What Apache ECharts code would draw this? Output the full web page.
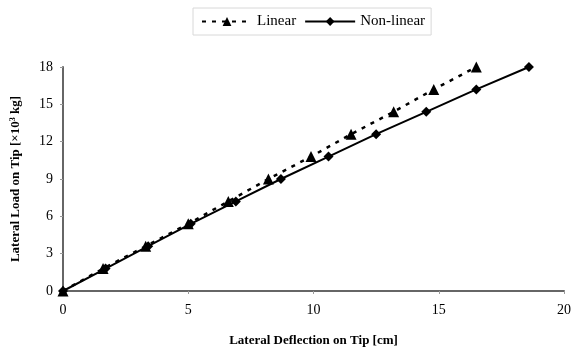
<!DOCTYPE html>
<html>
<head>
<meta charset="utf-8">
<script src="https://cdn.jsdelivr.net/npm/echarts@6/dist/echarts.min.js"></script>
<style>
  html, body { margin: 0; padding: 0; background: #fff; }
  #chart { width: 574px; height: 352px; }
</style>
</head>
<body>
<div id="chart"></div>
<script>
// Tip deflection (cm) vs lateral load (x10^3 kg)
const linearDeflection = [0, 1.6, 3.3, 5.0, 6.6, 8.2, 9.9, 11.5, 13.2, 14.8, 16.5];
const linearLoad       = [0, 1.8, 3.6, 5.4, 7.2, 9.0, 10.8, 12.6, 14.4, 16.2, 18.0];
const nonlinearDeflection = [0, 1.7, 3.4, 5.1, 6.9, 8.7, 10.6, 12.5, 14.5, 16.5, 18.6];
const nonlinearLoad       = [0, 1.8, 3.6, 5.4, 7.2, 9.0, 10.8, 12.6, 14.4, 16.2, 18.0];

const seriesNames = ['Linear', 'Non-linear'];
const xTitle = 'Lateral Deflection on Tip [cm]';
// y title with a raised exponent
const yTitle = '{b|Lateral Load on Tip [×10}{s|3}{b| kg]}';

const pairs = (xs, ys) => xs.map((x, i) => [x, ys[i]]);
const font = 'Liberation Serif, Times New Roman, serif';

const chart = echarts.init(document.getElementById('chart'));
chart.setOption({
  animation: false,
  textStyle: { fontFamily: font, color: '#000' },
  grid: { left: 63, right: 7, top: 67, bottom: 61, containLabel: false },
  legend: {
    top: 8,
    left: 193,
    data: seriesNames,
    itemWidth: 50,
    itemHeight: 11,
    itemGap: 8,
    padding: [6, 6, 6, 8],
    borderColor: '#d8d8d8',
    borderWidth: 1,
    textStyle: { fontFamily: font, fontSize: 15, color: '#000' }
  },
  xAxis: {
    type: 'value',
    min: 0, max: 20, interval: 5,
    name: xTitle,
    nameLocation: 'middle',
    nameGap: 43,
    nameTextStyle: { fontFamily: font, fontSize: 13, fontWeight: 'bold', color: '#000' },
    axisLine: { lineStyle: { color: '#666', width: 2 } },
    axisTick: { show: true, length: 3, lineStyle: { color: '#999' } },
    axisLabel: { fontFamily: font, fontSize: 14, color: '#000', margin: 12 },
    splitLine: { show: false }
  },
  yAxis: {
    type: 'value',
    min: 0, max: 18, interval: 3,
    name: yTitle,
    nameLocation: 'middle',
    nameGap: 40,
    nameTextStyle: {
      fontFamily: font, fontSize: 13, fontWeight: 'bold', color: '#000',
      rich: {
        b: { fontFamily: font, fontSize: 13, fontWeight: 'bold', color: '#000' },
        s: { fontFamily: font, fontSize: 8, fontWeight: 'bold', color: '#000', verticalAlign: 'top', padding: [0, 0, 6, 0] }
      }
    },
    axisLine: { show: true, lineStyle: { color: '#666', width: 2 } },
    axisTick: { show: true, length: 3, lineStyle: { color: '#999' } },
    axisLabel: { fontFamily: font, fontSize: 14, color: '#000', margin: 10 },
    splitLine: { show: false }
  },
  series: [
    {
      name: seriesNames[0],
      type: 'line',
      data: pairs(linearDeflection, linearLoad),
      symbol: 'triangle',
      symbolSize: 11,
      itemStyle: { color: '#000' },
      lineStyle: { color: '#000', width: 2.5, type: [4, 6] },
      z: 3
    },
    {
      name: seriesNames[1],
      type: 'line',
      data: pairs(nonlinearDeflection, nonlinearLoad),
      symbol: 'diamond',
      symbolSize: 10,
      itemStyle: { color: '#000' },
      lineStyle: { color: '#000', width: 2 },
      z: 4
    }
  ]
});
</script>
</body>
</html>
